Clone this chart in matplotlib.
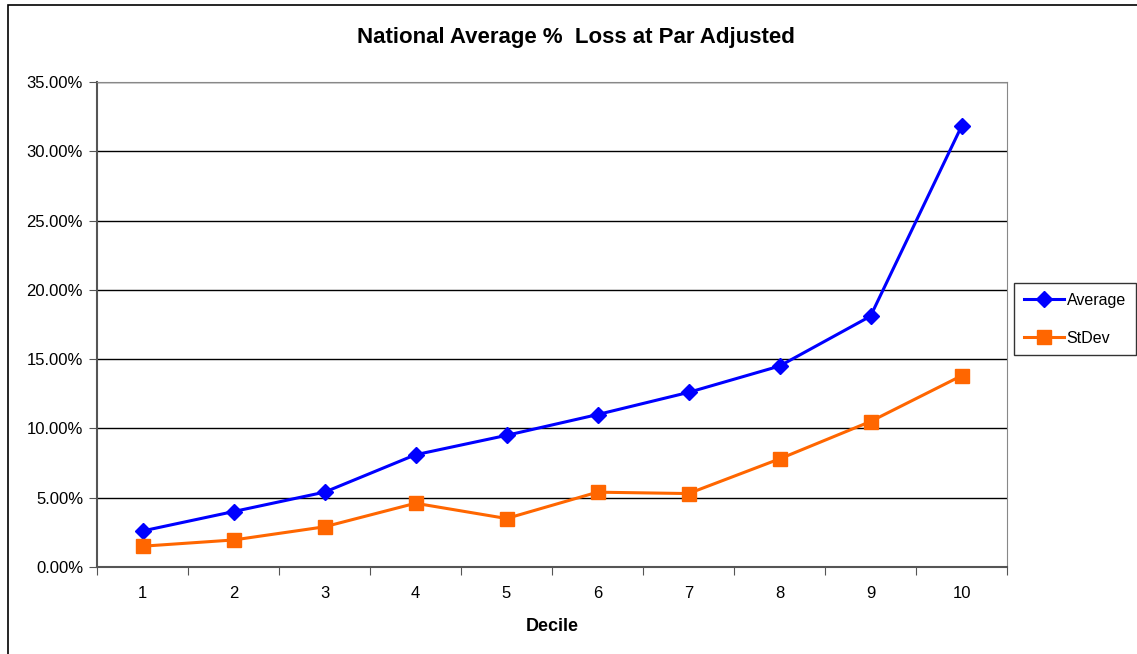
import matplotlib.pyplot as plt
from matplotlib.patches import Rectangle
from matplotlib.ticker import FixedLocator, PercentFormatter

plt.rcParams['font.family'] = ['Liberation Sans', 'DejaVu Sans']

deciles = [1, 2, 3, 4, 5, 6, 7, 8, 9, 10]
average = [2.6, 4.0, 5.4, 8.1, 9.5, 11.0, 12.6, 14.5, 18.1, 31.8]
stdev = [1.5, 1.95, 2.9, 4.6, 3.5, 5.4, 5.3, 7.8, 10.5, 13.8]

fig = plt.figure(figsize=(11.37, 6.54), dpi=100)
ax = fig.add_axes([97 / 1137, 1 - 567 / 654, 910 / 1137, 485 / 654])

# outer chart frame
fig.patches.append(Rectangle((8 / 1137, -0.1), 1.2, 1 - 5 / 654 + 0.1,
                             transform=fig.transFigure, fill=False,
                             edgecolor='black', linewidth=1.2))

ax.plot(deciles, average, color='#0000FF', linewidth=2.2, marker='D',
        markersize=8.5, label='Average')
ax.plot(deciles, stdev, color='#FF6600', linewidth=2.2, marker='s',
        markersize=9.5, label='StDev')

ax.set_xlim(0.5, 10.5)
ax.set_ylim(0, 35)
ax.set_yticks(range(0, 36, 5))
ax.yaxis.set_major_formatter(PercentFormatter(decimals=2))
ax.yaxis.grid(True, color='black', linewidth=1)
ax.set_axisbelow(True)

# category ticks between deciles, labels centred
ax.xaxis.set_major_locator(FixedLocator([i + 0.5 for i in range(0, 11)]))
ax.xaxis.set_minor_locator(FixedLocator(deciles))
ax.set_xticklabels([])
ax.set_xticklabels([str(d) for d in deciles], minor=True)
ax.tick_params(axis='x', which='major', length=6, color='#555555', direction='out')
ax.tick_params(axis='x', which='minor', length=0, pad=14, labelsize=12)
ax.tick_params(axis='y', length=6, color='#555555', labelsize=12, pad=4)

for side in ['top', 'right']:
    ax.spines[side].set_color('#888888')
for side in ['left', 'bottom']:
    ax.spines[side].set_color('#555555')
    ax.spines[side].set_linewidth(1.5)

ax.set_xlabel('Decile', fontsize=13, fontweight='bold', labelpad=12)
fig.text(576 / 1137, 1 - 38 / 654, 'National Average %  Loss at Par Adjusted',
         ha='center', va='center', fontsize=16, fontweight='bold')

leg = fig.legend(loc='upper left', bbox_to_anchor=(1014 / 1137, 1 - 283 / 654),
                 fontsize=11.5, frameon=True, fancybox=False, borderpad=0.6,
                 borderaxespad=0, labelspacing=1.45, handlelength=2.5,
                 handletextpad=0.2)
leg.get_frame().set_edgecolor('black')
leg.get_frame().set_linewidth(1)

fig.savefig('out.png', dpi=100)
